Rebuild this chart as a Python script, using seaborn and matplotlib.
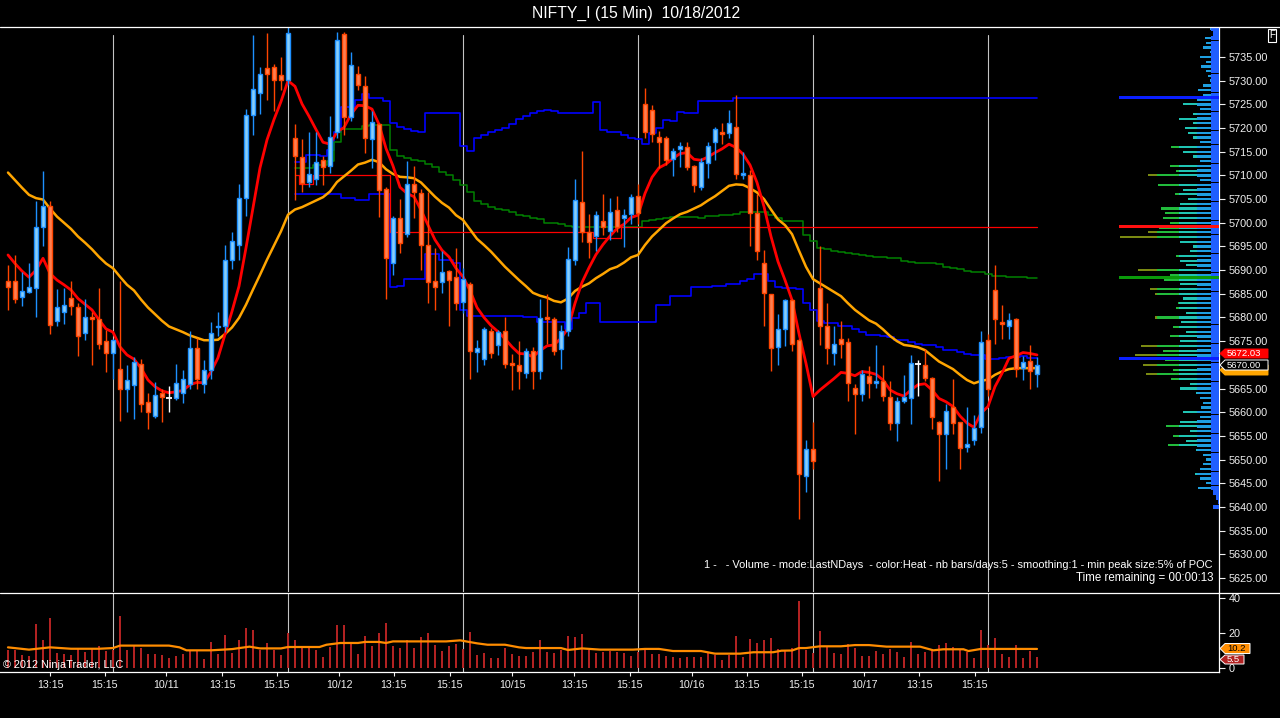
import numpy as np
import seaborn as sns
import matplotlib.pyplot as plt
from matplotlib.lines import Line2D
from matplotlib.patches import Polygon

# --- chart data (15 min bars, 10/10 - 10/18) ---
opens = [5687.7, 5687.6, 5684.3, 5685.4, 5686.2, 5699.2, 5703.5, 5679.3, 5681.2, 5684.1,
         5682.2, 5676.7, 5680.0, 5679.7, 5675.0, 5672.4, 5669.1, 5665.0, 5665.7, 5670.1,
         5662.1, 5659.1, 5664.0, 5663.1, 5663.1, 5664.0, 5666.0, 5673.5, 5666.0, 5669.0,
         5677.9, 5678.1, 5692.1, 5695.2, 5705.2, 5722.7, 5727.3, 5732.6, 5732.8, 5731.1,
         5730.1, 5718.0, 5713.8, 5708.7, 5709.3, 5713.3, 5711.9, 5719.1, 5739.9, 5722.3,
         5731.5, 5728.9, 5717.6, 5720.8, 5707.1, 5691.4, 5701.1, 5697.6, 5708.1, 5706.2,
         5695.4, 5687.6, 5687.4, 5689.8, 5688.5, 5683.2, 5687.0, 5672.8, 5671.2, 5677.1,
         5674.1, 5677.1, 5670.3, 5669.9, 5668.2, 5673.0, 5668.7, 5680.0, 5679.7, 5673.3,
         5677.1, 5692.1, 5704.4, 5698.0, 5697.2, 5700.4, 5698.3, 5702.6, 5700.9, 5701.8,
         5705.7, 5725.0, 5723.9, 5718.2, 5718.0, 5713.4, 5715.5, 5716.1, 5712.0, 5707.6,
         5712.6, 5717.0, 5719.1, 5718.9, 5720.3, 5710.2, 5710.0, 5702.0, 5691.4, 5684.9,
         5673.8, 5677.5, 5683.6, 5675.2, 5646.6, 5652.2, 5686.2, 5678.1, 5672.6, 5675.4,
         5674.8, 5665.2, 5663.8, 5667.7, 5666.1, 5666.6, 5663.2, 5657.7, 5662.4, 5663.1,
         5670.1, 5669.9, 5667.2, 5658.0, 5655.5, 5661.0, 5657.9, 5652.6, 5654.1, 5656.8,
         5675.2, 5685.7, 5679.0, 5678.1, 5679.6, 5669.3, 5670.9, 5668.0]
highs = [5691.1, 5693.2, 5689.7, 5691.6, 5704.7, 5710.9, 5704.7, 5686.1, 5686.2, 5687.7,
         5683.0, 5683.9, 5681.2, 5686.3, 5677.4, 5675.5, 5687.6, 5670.0, 5671.7, 5671.2,
         5664.1, 5666.4, 5665.0, 5665.5, 5670.2, 5669.0, 5677.1, 5675.7, 5671.0, 5679.0,
         5681.1, 5695.2, 5698.0, 5708.2, 5724.0, 5739.6, 5732.8, 5740.1, 5733.5, 5735.0,
         5741.5, 5720.8, 5717.7, 5719.2, 5719.2, 5714.0, 5722.5, 5740.3, 5740.3, 5736.0,
         5733.0, 5731.0, 5723.6, 5721.0, 5707.5, 5701.5, 5705.0, 5713.0, 5712.0, 5707.1,
         5706.4, 5694.6, 5694.0, 5690.0, 5694.7, 5690.4, 5687.5, 5675.2, 5677.9, 5677.7,
         5677.3, 5680.0, 5672.3, 5675.0, 5673.5, 5673.8, 5684.0, 5684.9, 5680.0, 5678.4,
         5694.8, 5709.2, 5715.1, 5701.8, 5702.5, 5706.1, 5705.2, 5705.6, 5702.9, 5706.1,
         5708.1, 5728.5, 5724.9, 5719.4, 5718.4, 5715.7, 5717.0, 5717.0, 5712.3, 5713.6,
         5717.1, 5720.3, 5721.1, 5723.8, 5727.0, 5714.9, 5711.1, 5706.1, 5694.2, 5685.0,
         5680.7, 5684.0, 5684.0, 5675.5, 5654.1, 5658.0, 5695.1, 5683.0, 5678.1, 5679.2,
         5675.6, 5665.9, 5669.0, 5669.8, 5674.2, 5670.0, 5666.6, 5663.3, 5667.9, 5672.1,
         5671.0, 5673.4, 5667.5, 5658.2, 5661.7, 5667.0, 5658.0, 5661.0, 5659.4, 5677.2,
         5676.5, 5691.1, 5682.6, 5680.9, 5679.8, 5671.9, 5674.1, 5671.6]
lows = [5681.6, 5683.1, 5682.5, 5685.2, 5680.2, 5695.1, 5676.5, 5678.1, 5678.6, 5680.5,
        5671.9, 5675.3, 5670.0, 5673.3, 5668.4, 5667.0, 5658.2, 5660.1, 5658.6, 5660.0,
        5656.4, 5658.8, 5658.0, 5660.1, 5662.5, 5662.0, 5665.0, 5665.0, 5664.0, 5667.0,
        5676.0, 5677.0, 5690.3, 5692.2, 5701.4, 5718.5, 5723.0, 5726.0, 5723.7, 5728.1,
        5729.0, 5704.9, 5706.5, 5707.5, 5708.0, 5708.0, 5710.5, 5717.9, 5718.6, 5721.5,
        5728.0, 5714.7, 5711.5, 5701.3, 5684.0, 5689.0, 5693.7, 5697.0, 5701.1, 5690.0,
        5683.0, 5681.6, 5685.1, 5678.1, 5681.6, 5681.0, 5667.0, 5668.4, 5670.0, 5671.5,
        5672.0, 5669.3, 5664.7, 5665.0, 5667.2, 5665.0, 5667.0, 5674.5, 5672.1, 5669.2,
        5676.0, 5691.0, 5696.0, 5692.5, 5694.0, 5697.4, 5696.4, 5698.0, 5694.8, 5699.7,
        5699.7, 5718.0, 5717.0, 5711.5, 5712.1, 5709.9, 5711.8, 5711.1, 5706.4, 5707.0,
        5709.4, 5713.3, 5716.6, 5718.0, 5709.2, 5709.2, 5695.0, 5692.1, 5678.2, 5668.6,
        5670.0, 5674.0, 5672.9, 5637.5, 5643.2, 5648.0, 5674.2, 5670.2, 5670.0, 5671.5,
        5662.4, 5655.3, 5662.4, 5663.1, 5665.2, 5662.4, 5656.2, 5654.0, 5662.0, 5657.6,
        5663.5, 5666.5, 5656.5, 5645.5, 5648.1, 5655.5, 5648.1, 5651.7, 5653.0, 5655.7,
        5663.5, 5674.5, 5675.4, 5675.4, 5667.4, 5666.7, 5664.8, 5665.4]
closes = [5686.5, 5684.0, 5685.5, 5686.4, 5699.0, 5703.5, 5678.5, 5682.2, 5682.6, 5682.5,
          5676.0, 5680.1, 5679.8, 5674.3, 5672.4, 5675.2, 5665.0, 5666.8, 5670.6, 5661.7,
          5660.0, 5663.6, 5663.3, 5663.1, 5666.1, 5667.0, 5673.5, 5667.0, 5669.0, 5676.7,
          5678.2, 5692.1, 5696.1, 5705.2, 5722.7, 5728.2, 5731.5, 5731.5, 5730.1, 5730.1,
          5740.0, 5714.0, 5708.3, 5710.4, 5712.8, 5711.7, 5718.2, 5738.5, 5722.3, 5733.4,
          5729.0, 5717.8, 5721.2, 5706.9, 5692.5, 5701.1, 5695.7, 5708.1, 5706.6, 5695.4,
          5687.4, 5686.5, 5689.7, 5688.0, 5683.0, 5688.1, 5672.9, 5673.6, 5677.6, 5672.4,
          5676.9, 5670.1, 5669.9, 5668.7, 5673.0, 5668.7, 5679.9, 5679.6, 5673.0, 5677.1,
          5692.3, 5704.8, 5698.0, 5696.0, 5701.6, 5699.0, 5702.2, 5699.0, 5701.7, 5705.5,
          5702.1, 5719.1, 5718.7, 5717.0, 5713.3, 5715.1, 5716.2, 5711.7, 5708.0, 5712.8,
          5716.2, 5719.7, 5718.7, 5721.0, 5710.4, 5710.4, 5702.0, 5694.1, 5685.1, 5673.5,
          5677.5, 5683.6, 5674.5, 5646.9, 5652.2, 5649.8, 5678.3, 5673.5, 5674.3, 5674.5,
          5666.1, 5663.8, 5668.0, 5666.1, 5666.6, 5663.5, 5657.7, 5662.4, 5663.2, 5670.3,
          5670.1, 5667.2, 5658.9, 5655.3, 5660.2, 5657.8, 5652.4, 5653.2, 5656.6, 5674.9,
          5664.8, 5679.6, 5678.6, 5679.5, 5669.1, 5670.7, 5668.6, 5670.0]

# fast (red) and slow (orange) moving averages, one value per bar
ma_fast = [5693.2, 5691.4, 5689.8, 5688.5, 5690.0, 5692.5, 5689.3, 5687.9, 5686.9, 5685.8,
           5684.0, 5682.8, 5681.6, 5679.5, 5677.6, 5676.9, 5673.8, 5672.1, 5671.2, 5669.3,
           5666.8, 5665.4, 5664.5, 5664.1, 5664.3, 5664.6, 5665.8, 5666.3, 5666.2, 5668.5,
           5671.5, 5676.4, 5681.3, 5686.6, 5694.7, 5703.1, 5711.6, 5717.5, 5721.8, 5725.6,
           5730.0, 5728.8, 5725.1, 5722.5, 5719.7, 5717.0, 5716.6, 5719.2, 5720.1, 5722.9,
           5724.8, 5724.7, 5724.0, 5720.8, 5715.7, 5712.0, 5707.5, 5706.2, 5705.5, 5702.7,
           5699.5, 5696.4, 5694.2, 5692.8, 5690.4, 5688.6, 5685.7, 5682.1, 5680.0, 5678.3,
           5677.0, 5675.5, 5673.8, 5672.4, 5672.3, 5671.7, 5673.0, 5674.0, 5674.2, 5675.6,
           5677.7, 5683.0, 5687.4, 5690.5, 5693.3, 5695.4, 5697.2, 5698.8, 5699.7, 5701.1,
           5701.6, 5706.2, 5709.6, 5711.6, 5712.4, 5713.6, 5714.6, 5714.8, 5713.4, 5713.2,
           5713.9, 5714.8, 5715.6, 5716.6, 5715.9, 5714.5, 5712.2, 5708.5, 5703.4, 5697.1,
           5691.8, 5687.9, 5683.7, 5676.6, 5670.3, 5663.3, 5664.7, 5665.9, 5667.1, 5668.4,
           5668.2, 5667.7, 5668.6, 5668.4, 5668.0, 5666.8, 5664.7, 5663.9, 5663.4, 5664.7,
           5665.8, 5666.0, 5664.7, 5662.9, 5662.2, 5661.2, 5659.2, 5657.7, 5656.8, 5659.8,
           5661.2, 5665.4, 5668.2, 5671.4, 5671.9, 5672.6, 5672.4, 5672.1]
ma_slow = [5710.6, 5709.0, 5707.4, 5705.9, 5705.2, 5704.9, 5703.0, 5701.3, 5700.0, 5698.7,
           5697.1, 5695.8, 5694.4, 5692.8, 5691.4, 5690.4, 5688.6, 5686.9, 5685.7, 5683.8,
           5682.1, 5680.7, 5679.3, 5678.1, 5677.5, 5676.9, 5676.2, 5675.7, 5675.2, 5675.2,
           5675.3, 5676.5, 5677.9, 5679.9, 5682.7, 5685.9, 5689.0, 5692.2, 5695.2, 5698.2,
           5701.7, 5702.8, 5703.3, 5704.0, 5704.7, 5705.4, 5706.6, 5708.6, 5709.8, 5711.0,
           5712.3, 5712.7, 5713.3, 5712.8, 5711.3, 5710.3, 5709.7, 5709.6, 5709.4, 5708.5,
           5707.0, 5705.5, 5704.2, 5703.2, 5701.6, 5700.6, 5698.6, 5696.6, 5695.3, 5693.9,
           5692.3, 5690.7, 5689.3, 5687.9, 5686.6, 5685.2, 5684.6, 5684.2, 5683.5, 5683.2,
           5684.0, 5685.6, 5686.5, 5687.2, 5688.3, 5689.2, 5690.2, 5690.7, 5691.6, 5692.7,
           5693.2, 5695.3, 5697.1, 5698.5, 5699.9, 5700.9, 5701.8, 5702.3, 5703.0, 5703.7,
           5704.7, 5705.6, 5706.7, 5707.8, 5708.1, 5708.0, 5707.3, 5706.4, 5705.0, 5702.8,
           5700.7, 5699.5, 5697.6, 5694.1, 5690.7, 5688.1, 5687.2, 5686.3, 5685.4, 5684.5,
           5683.0, 5681.6, 5680.5, 5679.4, 5678.7, 5677.5, 5676.1, 5675.0, 5674.2, 5674.0,
           5673.7, 5673.1, 5671.9, 5670.7, 5669.9, 5669.1, 5667.9, 5666.8, 5666.1, 5666.6,
           5666.9, 5667.9, 5668.6, 5669.1, 5669.3, 5669.3, 5669.3, 5669.3]

# developing volume profile levels, from the first bar of 10/12 (bar 41) to the end
profile_start = 41
vah_line = [5712.8, 5712.8, 5714.4, 5714.4, 5714.0, 5715.4, 5719.1, 5724.4, 5724.4, 5726.0,
            5727.2, 5726.3, 5726.3, 5725.7, 5721.0, 5720.3, 5719.8, 5719.4, 5719.1, 5723.1,
            5723.1, 5723.1, 5723.1, 5723.1, 5716.3, 5715.1, 5717.8, 5718.5, 5719.1, 5719.6,
            5720.1, 5720.8, 5722.0, 5722.6, 5723.2, 5723.7, 5723.9, 5723.7, 5723.1, 5723.1,
            5723.1, 5723.1, 5723.1, 5725.6, 5719.6, 5719.1, 5719.1, 5718.5, 5718.0, 5717.6,
            5716.6, 5719.0, 5720.1, 5721.7, 5721.5, 5723.3, 5723.1, 5723.1, 5725.7, 5725.7,
            5725.7, 5725.7, 5725.7] + [5726.3] * 44
val_line = [5706.1, 5706.1, 5706.1, 5706.1, 5706.1, 5706.1, 5706.1, 5705.2, 5705.2, 5704.9,
            5704.9, 5706.0, 5706.0, 5706.0, 5686.4, 5686.6, 5688.1, 5688.1, 5688.1, 5693.5,
            5693.5, 5692.1, 5692.1, 5691.6, 5681.6, 5680.3, 5680.3, 5680.3, 5680.3, 5680.3,
            5680.3, 5680.3, 5680.3, 5680.2, 5680.2, 5679.0, 5679.0, 5679.0, 5679.0, 5677.5,
            5679.9, 5680.9, 5683.0, 5683.0, 5679.0, 5679.0, 5679.0, 5679.0, 5679.0, 5679.0,
            5679.0, 5679.0, 5682.6, 5682.6, 5684.5, 5684.5, 5684.5, 5686.4, 5686.4, 5686.4,
            5686.6, 5686.6, 5687.0, 5687.0, 5687.8, 5688.1, 5689.1, 5689.1, 5687.6, 5686.5,
            5686.3, 5686.2, 5686.0, 5683.0, 5681.6, 5679.3, 5678.8, 5678.8, 5678.1, 5678.1,
            5677.6, 5676.9, 5676.4, 5676.3, 5676.1, 5675.8, 5675.3, 5675.3, 5674.9, 5674.3,
            5674.1, 5674.1, 5673.8, 5673.1, 5673.1, 5672.8, 5672.2, 5672.0, 5672.0, 5671.2,
            5671.2, 5671.4, 5671.6, 5671.7, 5671.9, 5671.4, 5671.4]
mid_line = [5711.6, 5711.6, 5711.6, 5712.3, 5712.3, 5713.0, 5717.0, 5719.8, 5719.7, 5719.9,
            5720.5, 5720.6, 5720.6, 5720.6, 5715.4, 5714.2, 5713.6, 5713.2, 5713.0, 5712.4,
            5711.8, 5710.8, 5710.1, 5709.0, 5708.0, 5706.4, 5704.5, 5703.9, 5703.3, 5703.0,
            5702.7, 5702.2, 5701.6, 5701.4, 5701.1, 5700.7, 5700.0, 5700.0, 5699.7, 5699.3,
            5699.0, 5699.0, 5699.0, 5699.0, 5699.0, 5699.0, 5699.0, 5699.0, 5699.0, 5699.2,
            5700.4, 5700.6, 5700.8, 5701.1, 5701.3, 5701.3, 5701.3, 5701.3, 5701.1, 5701.4,
            5701.4, 5701.6, 5701.6, 5701.8, 5702.2, 5702.2, 5702.2, 5702.2, 5701.6, 5700.9,
            5700.4, 5700.4, 5700.4, 5697.4, 5696.1, 5694.6, 5694.4, 5694.1, 5693.9, 5693.7,
            5693.5, 5693.2, 5693.0, 5692.7, 5692.7, 5692.5, 5692.5, 5692.0, 5691.8, 5691.6,
            5691.6, 5691.4, 5691.2, 5690.7, 5690.4, 5690.2, 5689.9, 5689.5, 5689.5, 5689.1,
            5688.8, 5688.8, 5688.5, 5688.5, 5688.5, 5688.3, 5688.3]
poc_line = [5710.1, 5708.2, 5708.2] + [5710.0] * 11 + [5698.0] * 29 + [5696.7] * 4 + [5699.0] * 60

# volume per bar and its moving average (read at turning points)
volume = [10.3, 10.3, 7.4, 6.9, 25.1, 16.0, 28.6, 8.6, 8.0, 7.4,
          11.4, 9.1, 11.4, 12.6, 9.7, 10.3, 29.7, 10.3, 12.6, 11.4,
          8.0, 8.0, 7.4, 5.7, 6.9, 8.0, 9.7, 9.7, 5.1, 14.9,
          8.0, 18.9, 8.6, 16.0, 22.9, 21.7, 10.3, 14.3, 10.3, 7.4,
          20.0, 16.0, 11.4, 11.4, 10.3, 6.3, 12.0, 24.6, 24.6, 13.7,
          8.0, 18.3, 12.6, 20.0, 25.7, 12.6, 11.4, 16.0, 11.4, 17.7,
          20.0, 13.1, 9.7, 12.6, 13.7, 10.9, 20.6, 7.4, 8.6, 5.7,
          5.7, 11.4, 8.0, 6.9, 6.9, 9.1, 16.0, 9.1, 8.6, 10.3,
          18.3, 17.7, 19.4, 10.3, 8.6, 9.1, 9.7, 9.1, 8.6, 6.9,
          9.1, 11.4, 8.0, 8.0, 6.9, 6.3, 5.7, 6.3, 6.3, 6.3,
          8.6, 7.4, 4.6, 7.4, 18.3, 6.3, 16.6, 14.3, 16.0, 17.1,
          10.9, 10.3, 11.4, 38.3, 10.3, 8.6, 21.1, 12.0, 8.6, 8.0,
          13.7, 11.4, 6.9, 6.9, 9.7, 8.0, 10.9, 9.1, 6.3, 14.9,
          8.0, 9.1, 10.3, 13.1, 14.3, 12.0, 10.3, 9.1, 5.7, 21.7,
          13.1, 17.1, 8.0, 6.3, 13.1, 5.7, 9.7, 6.3]
vol_avg_bar = [0, 3, 6, 9, 13, 15, 16, 23, 24.5, 25.5, 29, 32, 34.5, 36, 39, 40, 44.5, 45.5, 47.5, 50,
               51, 53, 54, 55, 62.6, 64.6, 67, 68.5, 71, 73, 74, 79, 80, 82, 84.6, 89.3, 91, 93, 95, 99,
               101, 104.6, 106.5, 109.3, 110.5, 112, 113, 114, 116, 119,
               121, 123, 125.5, 130.3, 132.2, 133.6, 136.5, 137.2, 139, 147]
vol_avg_val = [11.8, 10.5, 11.8, 11.0, 11.0, 11.4, 12.8, 12.8, 11.8, 10.1, 10.1, 10.8, 12.2, 11.2, 11.2,
               12.0, 12.0, 13.3, 14.3, 14.3, 14.9, 14.9, 14.3, 15.2, 15.2, 15.8, 14.1, 13.3, 13.3, 11.8,
               11.4, 11.4, 10.3, 11.2, 10.5, 10.5, 10.9, 10.9, 9.7, 9.7, 8.2, 8.2, 9.0, 9.0, 9.9,
               10.0, 11.4, 11.4, 12.4, 12.4, 13.1, 13.1, 12.2, 12.2, 10.1, 10.7, 10.7, 9.7, 10.9, 10.9]

# volume-at-price histogram on the right, % of POC, one bin per point (5741 down to 5640)
profile_top = 5741
profile_pct = [9, 6, 14, 13, 16, 9, 19, 13, 18, 13,
               11, 9, 16, 21, 16, 22, 36, 19, 26, 40,
               26, 34, 31, 26, 19, 48, 36, 26, 19, 49,
               43, 71, 19, 61, 36, 44, 31, 39, 58, 54,
               56, 49, 60, 71, 99, 39, 26, 29, 43, 39,
               33, 81, 49, 55, 39, 69, 64, 36, 41, 43,
               33, 64, 38, 46, 33, 49, 39, 78, 56, 84,
               54, 76, 46, 73, 48, 29, 39, 23, 19, 16,
               18, 36, 19, 39, 53, 29, 46, 33, 51, 23,
               16, 13, 16, 19, 24, 19, 13, 21, 6, 3,
               1, 6]
key_levels = [5726.5, 5699.25, 5688.5, 5671.4]
key_colors = ['#0a1fff', '#ff1010', '#0a9a0a', '#0a1fff']

session_end_bars = [15, 40, 65, 90, 115, 140]
tick_bars = [6.0, 13.8, 22.6, 30.6, 38.4, 47.3, 55.1, 63.1, 72.0, 80.9, 88.8, 97.7, 105.5, 113.4,
             122.3, 130.2, 138.1]
tick_labels = ['13:15', '15:15', '10/11', '13:15', '15:15', '10/12', '13:15', '15:15', '10/15',
               '13:15', '15:15', '10/16', '13:15', '15:15', '10/17', '13:15', '15:15']
price_ticks = list(range(5625, 5736, 5))
covered_tick = 5670  # hidden behind the last-price marker

# --- layout in pixels of the 1280x718 screenshot ---
W, H = 1280, 718
AXIS_X = 1219
PX_BAR0, PX_PER_BAR = 8, 7
PX_5735, PX_PER_PT = 57, 4.736
PX_VOL0, PX_PER_VOL = 668, 1.75

sns.set_theme(style='dark')
plt.rcParams['font.family'] = ['Liberation Sans', 'DejaVu Sans']


def fx(px):
    return px / W


def fy(py):
    return 1 - py / H


def price_tag(yc, label, fc, ec, tc, right, h=10):
    # arrow-shaped marker on the right axis, tip at the axis line
    pts = [(AXIS_X + 1, yc), (AXIS_X + 6, yc - h / 2), (right, yc - h / 2),
           (right, yc + h / 2), (AXIS_X + 6, yc + h / 2)]
    fig.add_artist(Polygon([(fx(x), fy(y)) for x, y in pts], closed=True,
                           transform=fig.transFigure, fc=fc, ec=ec, lw=0.7))
    if label:
        fig.text(fx(AXIS_X + 8), fy(yc + 0.3), label, ha='left', va='center',
                 color=tc, fontsize=6.8)


fig = plt.figure(figsize=(W / 100, H / 100), dpi=100, facecolor='black')
ax = fig.add_axes([0, fy(592), fx(AXIS_X), (592 - 28) / H])
axv = fig.add_axes([0, fy(672), fx(AXIS_X), (672 - 593) / H])
axp = fig.add_axes([0, fy(592), fx(AXIS_X), (592 - 28) / H])

xlim = ((0 - PX_BAR0) / PX_PER_BAR, (AXIS_X - PX_BAR0) / PX_PER_BAR)
ylim = (5735 - (592 - PX_5735) / PX_PER_PT, 5735 + (PX_5735 - 28) / PX_PER_PT)
vlim = ((PX_VOL0 - 672) / PX_PER_VOL, (PX_VOL0 - 593) / PX_PER_VOL)

bars = np.arange(len(closes))
o, h, l, c = map(np.array, (opens, highs, lows, closes))

# --- price panel ---
for b in session_end_bars:
    ax.axvline(b, ymax=1 - 7 / 564, color='#c4c4c4', lw=0.8, zorder=1)
    axv.axvline(b, color='#c4c4c4', lw=0.8, zorder=1)

pbars = bars[profile_start:]
ax.plot(pbars, vah_line, drawstyle='steps-mid', color='#0000ff', lw=1.2, zorder=2)
ax.plot(pbars, val_line, drawstyle='steps-mid', color='#0000ff', lw=1.2, zorder=2)
ax.plot(pbars, mid_line, drawstyle='steps-mid', color='#008000', lw=1.1, zorder=2)
ax.plot(pbars, poc_line, drawstyle='steps-mid', color='#ff0000', lw=0.9, zorder=2)

sns.lineplot(x=bars, y=ma_slow, ax=ax, color='#ffa500', linewidth=1.8, zorder=3)
sns.lineplot(x=bars, y=ma_fast, ax=ax, color='#ff0000', linewidth=2.0, zorder=3)

up = c > o
flat = c == o
wick_col = np.where(up, '#1e90ff', np.where(flat, '#ffffff', '#ff4500'))
ax.vlines(bars, l, h, colors=wick_col, linewidth=1.0, zorder=4)
body_h = np.maximum(np.abs(c - o), 0.3)
body_b = (o + c) / 2 - body_h / 2
m = ~flat
ax.bar(bars[m], body_h[m], bottom=body_b[m], width=0.6,
       color=np.where(up, '#87cefa', '#ff7f50')[m],
       edgecolor=np.where(up, '#1e90ff', '#ff4500')[m], linewidth=1.0, zorder=5)
ax.hlines(o[flat], bars[flat] - 0.4, bars[flat] + 0.4, colors='white', lw=1.3, zorder=5)

ax.set_xlim(*xlim)
ax.set_ylim(*ylim)
ax.set_facecolor('black')
ax.set_xticks([])
ax.set_yticks(price_ticks)
ax.set_yticklabels(['' if v == covered_tick else f'{v:.2f}' for v in price_ticks])
ax.yaxis.tick_right()
ax.tick_params(axis='y', left=False, right=True, labelleft=False, labelright=True,
               colors='#f0f0f0', labelsize=7.8, length=4.5, width=0.8, pad=2.5)
ax.set_xlabel('')
ax.set_ylabel('')
for side in ['left', 'top', 'bottom']:
    ax.spines[side].set_visible(False)
ax.spines['right'].set_color('white')
ax.spines['right'].set_linewidth(0.9)

# --- volume-at-price histogram, x in pixels to the left of the price axis ---
axp.set_xlim(AXIS_X, 0)
axp.set_ylim(*ylim)
axp.axis('off')
prof_price = profile_top - np.arange(len(profile_pct))
prof_len = np.array(profile_pct, dtype=float)
seg_edges = [0, 8, 22, 40, 62, 120]
seg_colors = ['#1f5eff', '#1e9fe0', '#20c4b4', '#22bb3c', '#7a8a12']
seg_heights = [0.95, 0.5, 0.45, 0.45, 0.45]
for a, b, col, hh in zip(seg_edges[:-1], seg_edges[1:], seg_colors, seg_heights):
    w = np.clip(prof_len, a, b) - a
    keep = w > 0
    axp.barh(prof_price[keep], w[keep], left=a, height=hh, color=col, linewidth=0)
axp.barh(key_levels, 100, left=0, height=0.65, color=key_colors, linewidth=0)

# --- volume panel ---
axv.bar(bars, volume, width=0.33, color='#b22222', linewidth=0, zorder=2)
sns.lineplot(x=vol_avg_bar, y=vol_avg_val, ax=axv, color='#ff8c00', linewidth=1.6, zorder=3)
axv.set_xlim(*xlim)
axv.set_ylim(*vlim)
axv.set_facecolor('black')
axv.set_xticks(tick_bars)
axv.set_xticklabels(tick_labels)
axv.set_yticks([0, 20, 40])
axv.set_yticklabels(['0', '20', '40'])
axv.yaxis.tick_right()
axv.tick_params(axis='y', left=False, right=True, labelleft=False, labelright=True,
                colors='#f0f0f0', labelsize=7.8, length=4.5, width=0.8, pad=2.5)
axv.tick_params(axis='x', bottom=True, colors='#f0f0f0', labelsize=7.7, length=3, width=0.8, pad=3)
axv.set_xlabel('')
axv.set_ylabel('')
for side in ['left', 'top']:
    axv.spines[side].set_visible(False)
for side in ['right', 'bottom']:
    axv.spines[side].set_color('white')
    axv.spines[side].set_linewidth(0.9)

# --- frame lines and texts ---
fig.add_artist(Line2D([0, 1], [fy(27), fy(27)], color='white', lw=0.9))
fig.add_artist(Line2D([0, 1], [fy(592.5), fy(592.5)], color='white', lw=0.9))

fig.text(fx(636), fy(13.5), 'NIFTY_I (15 Min)  10/18/2012', ha='center', va='center',
         color='white', fontsize=11.3)
fig.text(fx(1272), fy(35.5), 'F', ha='center', va='center', color='white', fontsize=7,
         bbox=dict(boxstyle='square,pad=0.15', fc='black', ec='white', lw=0.8))
fig.text(fx(1213), fy(564.5),
         '1 -   - Volume - mode:LastNDays  - color:Heat - nb bars/days:5 - smoothing:1 - min peak size:5% of POC',
         ha='right', va='center', color='white', fontsize=7.95)
fig.text(fx(1213), fy(577.5), 'Time remaining = 00:00:13', ha='right', va='center',
         color='white', fontsize=8.3)
fig.text(fx(3), fy(665), '\u00a9 2012 NinjaTrader, LLC', ha='left', va='center',
         color='white', fontsize=7.8)

# last-value markers on the right axis (lower ones are mostly covered)
price_tag(370, '', '#ffa500', '#ffa500', 'black', 1268)
price_tag(365, '5670.00', 'black', 'white', 'white', 1268)
price_tag(353.5, '5672.03', '#ff0000', '#ff0000', 'white', 1268, h=9)
price_tag(659.5, '5.5', '#b22222', 'white', 'white', 1244, h=9)
price_tag(648.5, '10.2', '#ff8c00', 'white', 'black', 1250, h=10)

fig.savefig('out.png', dpi=100, facecolor='black')
